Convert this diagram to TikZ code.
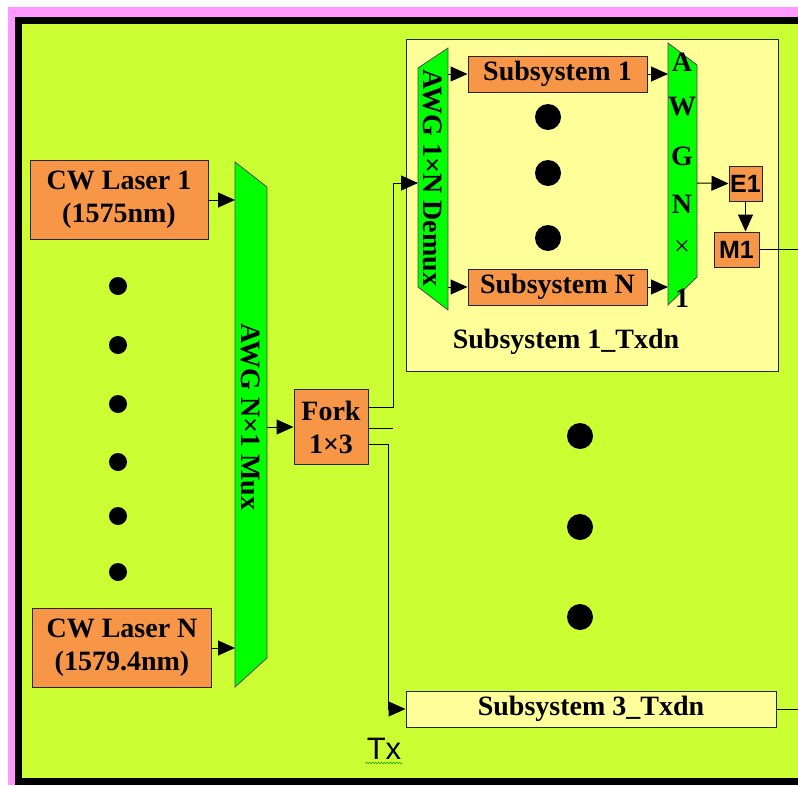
\documentclass[tikz,border=0pt]{standalone}
\usepackage{fontspec}
\setmainfont{Liberation Serif}
\setsansfont{Liberation Sans}
\usetikzlibrary{arrows.meta,decorations.pathmorphing}

\definecolor{bggreen}{RGB}{204,255,51}
\definecolor{boxorange}{RGB}{247,150,70}
\definecolor{paleyellow}{RGB}{255,255,153}
\definecolor{awggreen}{RGB}{0,255,0}
\definecolor{edgepink}{RGB}{255,153,255}

\begin{document}
\begin{tikzpicture}[
    x=1pt, y=-1pt,
    every node/.style={font=\fontsize{28}{33}\selectfont\bfseries},
    blk/.style={
        rectangle,
        draw=black!85,
        line width=1pt,
        fill=boxorange,
        inner sep=0pt,
        align=center
    },
    sub/.style={rectangle, draw=black!85, line width=1pt, fill=paleyellow, inner sep=0pt},
    awg/.style={draw=black!70, line width=0.8pt, fill=awggreen},
    tag/.style={blk, font=\sffamily\fontsize{25}{30}\selectfont\bfseries},
    conn/.style={-{Triangle[length=17pt,width=15pt]}, line width=1pt},
    wire/.style={line width=1pt},
    dot/.style={circle, fill=black, inner sep=0pt, minimum size=#1}
]

% Frame: white margin, pink edge, black border, green area
\fill[white]     (0,0)   rectangle (798,785);
\fill[edgepink]  (8,7)   rectangle (798,785);
\fill[black]     (15,17) rectangle (798,785);
\fill[bggreen]   (22,24) rectangle (798,778);
\useasboundingbox (0,0) rectangle (798,785);

% Left: lasers
\node[blk, minimum width=178pt, minimum height=79pt] (laser1) at (119,200) {CW Laser 1\\(1575nm)};
\node[blk, minimum width=179pt, minimum height=79pt] (laserN) at (122,648) {CW Laser N\\(1579.4nm)};
\foreach \y [count=\i] in {286,345,404,462,516,572}
    \node[dot=18pt] (ldot\i) at (118,\y) {};

% AWG N x 1 mux
\draw[awg] (235,162) -- (267,187) -- (267,658) -- (235,687) -- cycle;
\coordinate (muxL) at (235,400);
\coordinate (muxR) at (267,400);
\node[rotate=-90] (muxtxt) at (251,417) {AWG N×1 Mux};

% Fork
\node[blk, minimum width=74pt, minimum height=75pt] (fork) at (331,427) {Fork\\1×3};

% Subsystem 1_Txdn
\node[sub, minimum width=372pt, minimum height=332pt] (txdn1) at (592,205) {};
\node (txdn1lbl) at (566,342) {Subsystem 1\_Txdn};

\draw[awg] (418,68) -- (448,48) -- (448,310) -- (418,287) -- cycle;
\coordinate (dmxL) at (418,183);
\coordinate (dmxR) at (448,183);
\node[rotate=-90] (dmxtxt) at (433,178) {AWG 1×N Demux};

\node[blk, minimum width=179pt, minimum height=36pt] (sys1) at (557.5,74) {Subsystem 1};
\node[blk, minimum width=179pt, minimum height=36pt] (sysN) at (557.5,287) {Subsystem N};
\foreach \y [count=\i] in {117,173,238}
    \node[dot=26pt] (sdot\i) at (548,\y) {};

\draw[awg] (668,43) -- (697,65) -- (697,277) -- (668,305) -- cycle;
\coordinate (awgL) at (668,180);
\coordinate (awgR) at (697,183);
\foreach \c/\y in {A/62,W/107,G/156,N/204,{\mdseries×}/248,1/298}
    \node (awgc\y) at (682,\y) {\c};

\node[tag, minimum width=33pt, minimum height=35pt] (e1) at (745.5,183.5) {E1};
\node[tag, minimum width=45pt, minimum height=35pt] (m1) at (736.5,249.5) {M1};
\coordinate (out1) at (798,249.5);

% Subsystem 3_Txdn
\node[sub, minimum width=370pt, minimum height=36pt] (txdn3) at (591,709) {Subsystem 3\_Txdn};
\coordinate (out3) at (798,709);

% Middle dots
\foreach \y [count=\i] in {436,527,617}
    \node[dot=26pt] (mdot\i) at (580,\y) {};

% Tx label
\node[font=\sffamily\fontsize{31}{34}\selectfont, inner sep=1pt] (tx) at (384,749) {Tx};
\draw[green!60!black, line width=0.5pt, decorate,
      decoration={snake, amplitude=0.8pt, segment length=3pt}]
    ([yshift=-2pt]tx.south west) -- ([yshift=-2pt]tx.south east);

% Connections
\draw[conn] (laser1.east) -- (laser1.east -| muxL);
\draw[conn] (laserN.east) -- (laserN.east -| muxL);
\draw[conn] (fork.west -| muxR) -- (fork.west);

\draw[conn] ([yshift=19.5pt]fork.east) -- ++(25,0) |- (dmxL);
\draw[wire] ([yshift=-1.5pt]fork.east) -- ++(24,0);
\draw[conn] ([yshift=-17.5pt]fork.east) -- ++(20,0) |- (txdn3.west);

\draw[conn] (sys1.west -| dmxR) -- (sys1.west);
\draw[conn] (sysN.west -| dmxR) -- (sysN.west);
\draw[conn] (sys1.east) -- (sys1.east -| awgL);
\draw[conn] (sysN.east) -- (sysN.east -| awgL);

\draw[conn] (awgR) -- (e1.west);
\draw[conn] (e1.south) -- (e1.south |- m1.north);
\draw[wire] (m1.east) -- (out1);
\draw[wire] (txdn3.east) -- (out3);

\end{tikzpicture}
\end{document}
